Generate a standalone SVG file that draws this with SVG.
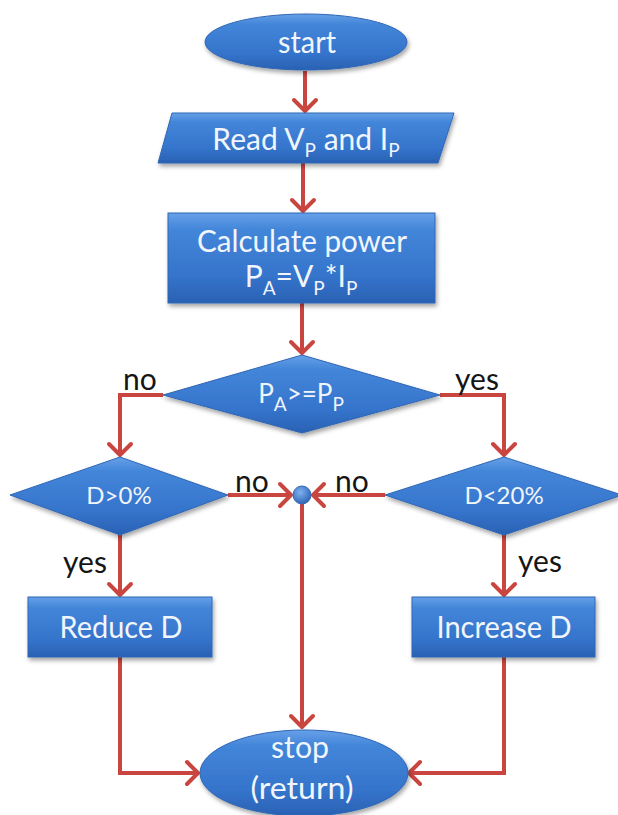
<svg xmlns="http://www.w3.org/2000/svg" width="618" height="815" viewBox="0 0 618 815">
<defs>
  <linearGradient id="blue" x1="0" y1="0" x2="0" y2="1">
    <stop offset="0" stop-color="#67a0e8"/>
    <stop offset="0.18" stop-color="#4386d9"/>
    <stop offset="0.7" stop-color="#3574cc"/>
    <stop offset="1" stop-color="#2a61b3"/>
  </linearGradient>
  <radialGradient id="dot" cx="0.4" cy="0.35" r="0.7">
    <stop offset="0" stop-color="#7fb2f0"/>
    <stop offset="1" stop-color="#2a62b3"/>
  </radialGradient>
  <filter id="sh" x="-10%" y="-10%" width="125%" height="135%">
    <feDropShadow dx="1.5" dy="3" stdDeviation="2" flood-color="#000" flood-opacity="0.35"/>
  </filter>
  <marker id="arr" viewBox="-15 -14 18 28" markerWidth="18" markerHeight="28" refX="0" refY="0" orient="auto" markerUnits="userSpaceOnUse">
    <path d="M-12,-11 L-1,0 L-12,11" fill="none" stroke="#c9453f" stroke-width="4" stroke-linecap="round" stroke-linejoin="round"/>
  </marker>
</defs>
<style>
  .shape{fill:url(#blue);stroke:#2f66b4;stroke-width:1;filter:url(#sh)}
  .t{font-family:Lato,"Liberation Sans",sans-serif;fill:#f1f5fc;text-anchor:middle;font-size:30px}
  .d{font-size:24px}
  .sub{font-size:19px}
  .lbl{font-family:Lato,"Liberation Sans",sans-serif;fill:#151515;font-size:30px}
  .c{fill:none;stroke:#c9453f;stroke-width:4;marker-end:url(#arr)}
  .l{fill:none;stroke:#c9453f;stroke-width:4}
</style>

<g id="connectors">
  <line class="c" x1="305" y1="71" x2="305" y2="112"/>
  <line class="c" x1="303" y1="163" x2="303" y2="212"/>
  <line class="c" x1="302" y1="303" x2="302" y2="354"/>
  <polyline class="c" points="163,395 120,395 120,456"/>
  <polyline class="c" points="440,395 504,395 504,456"/>
  <line class="c" x1="228" y1="495" x2="292" y2="495"/>
  <line class="c" x1="385" y1="495" x2="312" y2="495"/>
  <line class="c" x1="302" y1="504" x2="302" y2="728"/>
  <line class="c" x1="120" y1="535" x2="120" y2="596"/>
  <line class="c" x1="504" y1="535" x2="504" y2="596"/>
  <polyline class="c" points="120,657 120,773 199,773"/>
  <polyline class="c" points="504,657 504,773 408,773"/>
</g>

<g id="start">
  <ellipse class="shape" cx="306" cy="42" rx="101" ry="28"/>
  <text class="t" x="307" y="53" textLength="58" lengthAdjust="spacingAndGlyphs">start</text>
</g>

<g id="read">
  <polygon class="shape" points="172,113 454,113 438,163 158,163"/>
  <text class="t" x="306" y="150">Read V<tspan class="sub" dy="7">P</tspan><tspan dy="-7"> and I</tspan><tspan class="sub" dy="7">P</tspan></text>
</g>

<g id="calc">
  <rect class="shape" x="168" y="213" width="267" height="90"/>
  <text class="t" x="302" y="252" textLength="210" lengthAdjust="spacingAndGlyphs">Calculate power</text>
  <text class="t" x="301" y="287">P<tspan class="sub" dy="8">A</tspan><tspan dy="-8">=V</tspan><tspan class="sub" dy="8">P</tspan><tspan dy="-8">*I</tspan><tspan class="sub" dy="8">P</tspan></text>
</g>

<g id="cmp">
  <polygon class="shape" points="163,395 302,355 440,395 302,433"/>
  <text class="t" x="301" y="403" style="font-size:26px">P<tspan class="sub" dy="8">A</tspan><tspan dy="-8">&gt;=P</tspan><tspan class="sub" dy="8">P</tspan></text>
</g>

<g id="dgt0">
  <polygon class="shape" points="10,495 120,457 228,495 120,535"/>
  <text class="t d" x="119" y="504">D&gt;0%</text>
</g>

<g id="dlt20">
  <polygon class="shape" points="385,495 504,457 622,495 504,535"/>
  <text class="t d" x="504" y="504">D&lt;20%</text>
</g>

<g id="junction">
  <circle cx="302" cy="495" r="9" fill="url(#dot)" stroke="#2f66b4" stroke-width="1"/>
</g>

<g id="reduce">
  <rect class="shape" x="28" y="597" width="184" height="60"/>
  <text class="t" x="121" y="638" textLength="123" lengthAdjust="spacingAndGlyphs">Reduce D</text>
</g>

<g id="increase">
  <rect class="shape" x="412" y="597" width="183" height="60"/>
  <text class="t" x="504" y="638" textLength="135" lengthAdjust="spacingAndGlyphs">Increase D</text>
</g>

<g id="stop">
  <ellipse class="shape" cx="304" cy="773" rx="104" ry="43"/>
  <text class="t" x="300" y="758" textLength="58" lengthAdjust="spacingAndGlyphs">stop</text>
  <text class="t" x="302" y="799" textLength="103" lengthAdjust="spacingAndGlyphs">(return)</text>
</g>

<g id="labels">
  <text class="lbl" x="123" y="390">no</text>
  <text class="lbl" x="455" y="390">yes</text>
  <text class="lbl" x="235" y="492">no</text>
  <text class="lbl" x="335" y="492">no</text>
  <text class="lbl" x="63" y="573">yes</text>
  <text class="lbl" x="518" y="572">yes</text>
</g>
</svg>
